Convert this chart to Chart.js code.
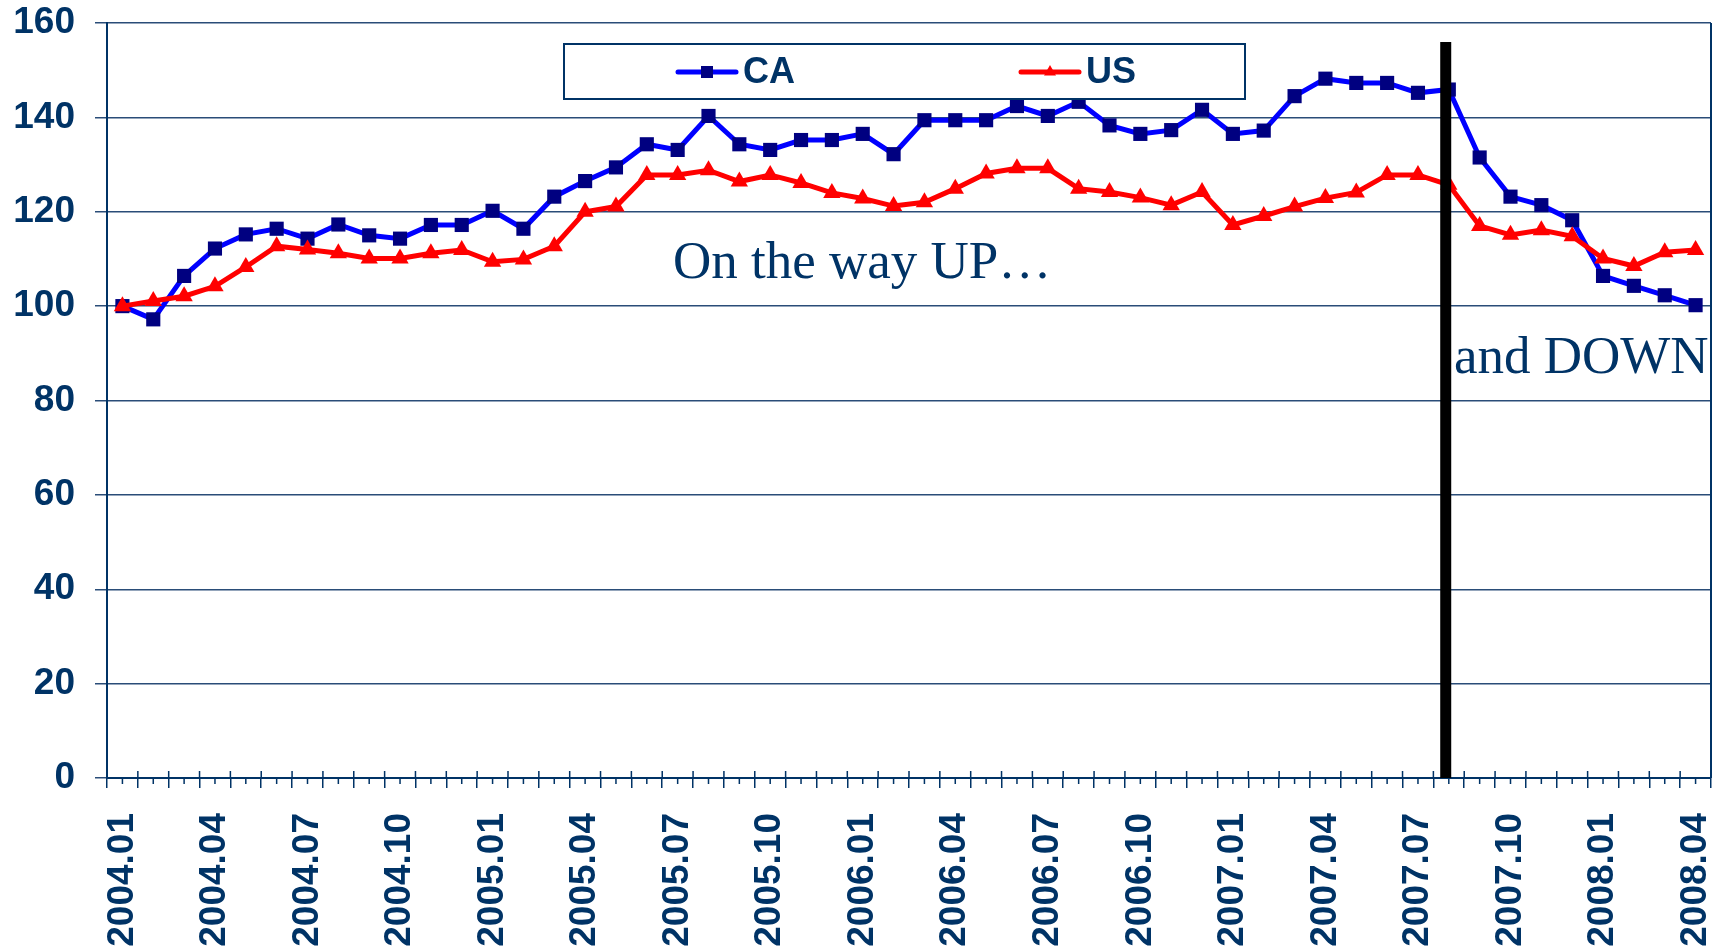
<!DOCTYPE html>
<html>
<head>
<meta charset="utf-8">
<script src="https://cdn.jsdelivr.net/npm/chart.js@4.4.1/dist/chart.umd.min.js"></script>
<style>
  html, body { margin: 0; padding: 0; background: #fff; overflow: hidden; }
  #wrap { position: relative; width: 1721px; height: 948px; }
</style>
</head>
<body>
<div id="wrap"><canvas id="priceChart"></canvas></div>
<script>
const months = [
  '2004.01','2004.02','2004.03','2004.04','2004.05','2004.06','2004.07','2004.08','2004.09','2004.10','2004.11','2004.12',
  '2005.01','2005.02','2005.03','2005.04','2005.05','2005.06','2005.07','2005.08','2005.09','2005.10','2005.11','2005.12',
  '2006.01','2006.02','2006.03','2006.04','2006.05','2006.06','2006.07','2006.08','2006.09','2006.10','2006.11','2006.12',
  '2007.01','2007.02','2007.03','2007.04','2007.05','2007.06','2007.07','2007.08','2007.09','2007.10','2007.11','2007.12',
  '2008.01','2008.02','2008.03','2008.04'
];

const caValues = [
  100, 97.2, 106.4, 112.2, 115.2, 116.4, 114.3, 117.3, 115.0, 114.3, 117.2, 117.2,
  120.2, 116.4, 123.2, 126.5, 129.4, 134.3, 133.1, 140.3, 134.3, 133.1, 135.2, 135.2,
  136.5, 132.2, 139.4, 139.4, 139.4, 142.4, 140.3, 143.3, 138.3, 136.5, 137.3, 141.6,
  136.5, 137.2, 144.5, 148.2, 147.3, 147.3, 145.2, 145.9, 131.5, 123.2, 121.4, 118.2,
  106.4, 104.3, 102.3, 100.2
];

const usValues = [
  100, 101.1, 102.1, 104.2, 108.3, 112.7, 112.0, 111.2, 110.1, 110.1, 111.2, 111.9,
  109.4, 109.9, 112.7, 120.0, 121.1, 127.8, 127.8, 128.8, 126.4, 127.8, 126.1, 124.0,
  122.8, 121.2, 122.0, 124.9, 128.1, 129.2, 129.2, 124.9, 124.2, 123.0, 121.4, 124.2,
  117.2, 119.1, 121.1, 122.9, 124.1, 127.8, 127.8, 125.7, 117.0, 115.1, 116.1, 114.8,
  110.1, 108.5, 111.4, 111.9
];

const seriesNames = ['CA', 'US'];
const labelEvery = 3;          // one month label per quarter
const turnMonth = '2007.08';   // black divider
const turnTop = 156;
const notes = ['On the way UP\u2026', 'and DOWN'];

const NAVY = '#003366';
const GRID = '#2a4d78';

// short ticks at the month centres + the upward part of boundary ticks
const axisTicks = {
  id: 'axisTicks',
  afterDraw(chart) {
    const { ctx, chartArea } = chart;
    const x = chart.scales.x;
    const half = (x.getPixelForValue(1) - x.getPixelForValue(0)) / 2;
    ctx.save();
    ctx.strokeStyle = NAVY;
    ctx.lineWidth = 1.5;
    ctx.beginPath();
    for (let i = 0; i < months.length; i++) {
      const px = x.getPixelForValue(i);
      ctx.moveTo(px, chartArea.bottom);
      ctx.lineTo(px, chartArea.bottom + 6);
      ctx.moveTo(px + half, chartArea.bottom - 7);
      ctx.lineTo(px + half, chartArea.bottom);
    }
    ctx.stroke();
    // right frame
    ctx.lineWidth = 2;
    ctx.beginPath();
    ctx.moveTo(chartArea.right, chartArea.top);
    ctx.lineTo(chartArea.right, chartArea.bottom);
    ctx.stroke();
    ctx.restore();
  }
};

const turnLine = {
  id: 'turnLine',
  afterDatasetsDraw(chart) {
    const { ctx } = chart;
    const px = chart.scales.x.getPixelForValue(months.indexOf(turnMonth) - 0.1);
    ctx.save();
    ctx.strokeStyle = '#000';
    ctx.lineWidth = 11;
    ctx.beginPath();
    ctx.moveTo(px, chart.scales.y.getPixelForValue(turnTop));
    ctx.lineTo(px, chart.scales.y.getPixelForValue(0));
    ctx.stroke();

    ctx.fillStyle = NAVY;
    ctx.font = '53px "Liberation Serif", "Times New Roman", serif';
    ctx.textBaseline = 'alphabetic';
    ctx.fillText(notes[0], 673, 278);
    ctx.fillText(notes[1], 1454, 373);
    ctx.restore();
  }
};

function drawMarker(ctx, style, x, y, r) {
  ctx.beginPath();
  if (style === 'rect') {
    ctx.rect(x - r, y - r, 2 * r, 2 * r);
  } else {
    ctx.moveTo(x, y - r * 1.15);
    ctx.lineTo(x + r, y + r * 0.6);
    ctx.lineTo(x - r, y + r * 0.6);
    ctx.closePath();
  }
  ctx.fill();
}

const boxLegend = {
  id: 'boxLegend',
  afterDraw(chart) {
    const { ctx } = chart;
    const starts = [678, 1021];
    const cy = 72;
    ctx.save();
    ctx.fillStyle = '#fff';
    ctx.fillRect(564, 44, 681, 55);
    ctx.strokeStyle = NAVY;
    ctx.lineWidth = 2;
    ctx.strokeRect(564, 44, 681, 55);
    chart.data.datasets.forEach((ds, i) => {
      const x0 = starts[i];
      ctx.strokeStyle = ds.borderColor;
      ctx.lineWidth = 5;
      ctx.lineCap = 'round';
      ctx.beginPath();
      ctx.moveTo(x0, cy);
      ctx.lineTo(x0 + 58, cy);
      ctx.stroke();
      ctx.fillStyle = ds.pointBackgroundColor;
      drawMarker(ctx, ds.pointStyle, x0 + 29, cy, 6);
      ctx.fillStyle = NAVY;
      ctx.font = 'bold 36px "Liberation Sans", Arial, sans-serif';
      ctx.textBaseline = 'middle';
      ctx.fillText(ds.label, x0 + 65, cy + 1);
    });
    ctx.restore();
  }
};

const tickFont = { family: '"Liberation Sans", Arial, sans-serif', size: 37, weight: 'bold' };

new Chart(document.getElementById('priceChart'), {
  type: 'line',
  data: {
    labels: months,
    datasets: [
      {
        label: seriesNames[0],
        data: caValues,
        borderColor: '#0000ff',
        borderWidth: 5,
        pointStyle: 'rect',
        pointRadius: 10,
        pointBackgroundColor: '#000080',
        pointBorderColor: '#000080',
        pointBorderWidth: 0,
        tension: 0,
        order: 2
      },
      {
        label: seriesNames[1],
        data: usValues,
        borderColor: '#ff0000',
        borderWidth: 5,
        pointStyle: 'triangle',
        pointRadius: 10,
        pointBackgroundColor: '#ff0000',
        pointBorderColor: '#ff0000',
        pointBorderWidth: 0,
        tension: 0,
        order: 1
      }
    ]
  },
  options: {
    responsive: true,
    maintainAspectRatio: false,
    animation: false,
    layout: { padding: { top: 23, right: 8, left: 0, bottom: 0 } },
    plugins: {
      legend: { display: false },
      tooltip: { enabled: false }
    },
    scales: {
      x: {
        offset: true,
        grid: {
          offset: true,
          drawOnChartArea: false,
          drawTicks: true,
          tickLength: 10,
          color: NAVY,
          lineWidth: 1.5
        },
        border: { display: true, color: NAVY, width: 2 },
        ticks: {
          autoSkip: false,
          minRotation: 90,
          maxRotation: 90,
          padding: 25,
          color: NAVY,
          font: tickFont,
          callback: (v, i) => (i % labelEvery === 0 ? months[i] : '')
        },
        afterFit: (s) => {
          s.height = 170;
          s.paddingLeft = 0;
          s.paddingRight = 0;
        }
      },
      y: {
        min: 0,
        max: 160,
        ticks: {
          stepSize: 20,
          padding: 20,
          color: NAVY,
          font: tickFont
        },
        grid: {
          color: GRID,
          lineWidth: 1.5,
          tickLength: 12
        },
        border: { display: true, color: NAVY, width: 2 },
        afterFit: (s) => {
          s.width = 107;
          s.paddingTop = 0;
          s.paddingBottom = 0;
        }
      }
    }
  },
  plugins: [axisTicks, turnLine, boxLegend]
});
</script>
</body>
</html>
